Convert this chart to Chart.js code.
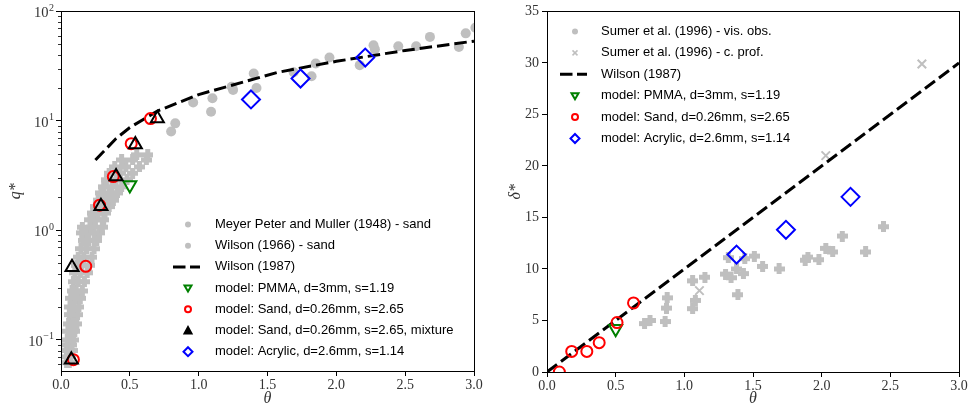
<!DOCTYPE html>
<html>
<head>
<meta charset="utf-8">
<title>Sheet flow transport and layer thickness</title>
<script src="https://cdn.jsdelivr.net/npm/chart.js"></script>
<style>
    body { margin: 0; background: #fff; }
    #wrap { position: relative; width: 970px; height: 408px; }
    canvas { position: absolute; top: 0; }
    #left { left: 0; }
    #right { left: 485px; }
</style>
</head>
<body>
<div id="wrap">
    <canvas id="left" width="485" height="408"></canvas>
    <canvas id="right" width="485" height="408"></canvas>
</div>
<script>
// ---------- left panel: q* against theta (log y) ----------
const mpmSand = [
    [0.04,0.062],[0.06,0.062],
    [0.045,0.07],[0.07,0.07],
    [0.04,0.08],[0.06,0.08],[0.08,0.08],
    [0.05,0.09],[0.075,0.09],
    [0.045,0.10],[0.07,0.10],[0.09,0.10],
    [0.05,0.12],[0.08,0.12],[0.10,0.12],
    [0.055,0.14],[0.085,0.14],[0.115,0.14],
    [0.06,0.17],[0.09,0.17],[0.12,0.17],
    [0.065,0.20],[0.095,0.20],[0.13,0.20],
    [0.07,0.24],[0.10,0.24],[0.14,0.24],
    [0.08,0.28],[0.11,0.28],[0.155,0.28],
    [0.09,0.34],[0.125,0.34],[0.17,0.34],
    [0.10,0.41],[0.14,0.41],[0.19,0.41],
    [0.115,0.48],[0.15,0.48],[0.205,0.48],
    [0.125,0.57],[0.165,0.57],[0.225,0.57],
    [0.145,0.68],[0.185,0.68],[0.24,0.68],
    [0.16,0.81],[0.20,0.81],[0.26,0.81],
    [0.15,0.95],[0.19,0.95],[0.24,0.95],[0.28,0.95],
    [0.155,1.07],[0.22,1.07],[0.30,1.07],
    [0.21,1.25],[0.25,1.25],[0.31,1.25],
    [0.23,1.44],[0.27,1.44],[0.32,1.44],
    [0.25,1.65],[0.29,1.65],[0.35,1.65],
    [0.27,1.89],[0.32,1.89],[0.38,1.89],
    [0.29,2.2],[0.35,2.2],[0.41,2.2],
    [0.31,2.5],[0.37,2.5],[0.44,2.5],
    [0.33,2.9],[0.40,2.9],[0.48,2.9],
    [0.35,3.33],[0.43,3.33],[0.52,3.33],
    [0.39,3.8],[0.47,3.8],[0.57,3.8],
    [0.44,4.4],[0.52,4.4],[0.62,4.4],
    [0.55,4.9],[0.63,4.9]
];
const wilson1966 = [
    [0.80,8.0],[0.83,9.5],[0.96,14.7],[1.10,16.1],[1.09,12.1],[1.25,19.2],[1.24,20.5],
    [1.40,27.1],[1.42,20.0],[1.69,27.8],[1.82,25.6],[1.85,33.4],[1.95,37.9],[2.17,32.3],
    [2.27,49],[2.28,45],[2.45,48],[2.58,48],[2.68,58.5],[2.89,47.4],[2.94,63],[3.01,71]
];
const wilson1987q = [
    [0.25,4.4],[0.4,6.9],[0.5,8.7],[0.7,12.3],[1.0,17.4],[1.37,23.5],[1.57,27.7],
    [2.0,35],[2.5,44],[3.0,53.5]
];
const pmmaQ = [[0.50,2.6]];
const sandQ = [[0.65,10.5],[0.51,6.2],[0.38,3.1],[0.28,1.7],[0.18,0.47],[0.09,0.066]];
const mixQ = [[0.70,10.5],[0.54,6.1],[0.40,3.1],[0.29,1.66],[0.08,0.46],[0.075,0.066]];
const acrylicQ = [[1.38,15.7],[1.74,24.4],[2.21,37.9]];

const qTicks = [0.1, 1, 10, 100];
const qTickExp = ['−1', '0', '1', '2'];
const qMinor = [0.06,0.07,0.08,0.09,0.2,0.3,0.4,0.5,0.6,0.7,0.8,0.9,2,3,4,5,6,7,8,9,20,30,40,50,60,70,80,90];

const leftLabels = [
    'Meyer Peter and Muller (1948) - sand',
    'Wilson (1966) - sand',
    'Wilson (1987)',
    'model: PMMA, d=3mm, s=1.19',
    'model: Sand, d=0.26mm, s=2.65',
    'model: Sand, d=0.26mm, s=2.65, mixture',
    'model: Acrylic, d=2.6mm, s=1.14'
];

// ---------- right panel: delta* against theta ----------
const sumerVis = [
    [0.71,4.7],[0.75,5.0],[0.86,4.9],[0.87,6.2],[0.875,7.2],[1.06,8.85],[1.06,6.15],[1.08,6.95],
    [1.15,9.2],[1.30,9.5],[1.34,9.15],[1.32,11.1],[1.38,10.0],[1.43,9.55],[1.39,7.5],[1.44,11.0],
    [1.51,11.25],[1.57,10.25],[1.69,10.0],[1.88,10.85],[1.90,11.15],[1.98,10.9],[2.03,12.0],
    [2.08,11.65],[2.15,13.2],[2.32,11.65],[2.45,14.1]
];
const sumerProf = [[1.11,7.9],[2.03,21.0],[2.73,29.9]];
const wilson1987d = [[0,0],[3,30]];
const pmmaD = [[0.50,4.2]];
const sandD = [[0.09,0],[0.18,2.0],[0.29,2.0],[0.38,2.85],[0.51,4.8],[0.63,6.7]];
const acrylicD = [[1.38,11.4],[1.74,13.8],[2.21,17.0]];

const rightLabels = [
    'Sumer et al. (1996) - vis. obs.',
    'Sumer et al. (1996) - c. prof.',
    'Wilson (1987)',
    'model: PMMA, d=3mm, s=1.19',
    'model: Sand, d=0.26mm, s=2.65',
    'model: Acrylic, d=2.6mm, s=1.14'
];

const GREY = '#bfbfbf';
const SERIF = '"Liberation Serif", "Times New Roman", serif';
const pts = arr => arr.map(p => ({x: p[0], y: p[1]}));

function plusMarker(size, arm, color) {
    const c = document.createElement('canvas');
    c.width = size; c.height = size;
    const g = c.getContext('2d');
    g.fillStyle = color;
    const o = (size - arm) / 2;
    g.fillRect(o, 0, arm, size);
    g.fillRect(0, o, size, arm);
    return c;
}
const plusImg = plusMarker(11, 5, GREY);

function marks(label, data, style, color, extra) {
    return Object.assign({
        label: label, data: pts(data), showLine: false,
        pointStyle: style, pointRadius: 6, pointBorderWidth: 2,
        pointBorderColor: color, pointBackgroundColor: 'rgba(0,0,0,0)'
    }, extra || {});
}
function dashed(label, data) {
    return {
        label: label, data: pts(data), showLine: true, pointRadius: 0,
        borderColor: '#000', borderWidth: 3, borderDash: [12.5, 5], fill: false
    };
}

function drawMark(ctx, kind, x, y) {
    ctx.save();
    ctx.setLineDash([]);
    ctx.lineWidth = 2;
    ctx.beginPath();
    if (kind === 'dot') {
        ctx.fillStyle = GREY;
        ctx.arc(x, y, 3, 0, 2 * Math.PI); ctx.fill();
    } else if (kind === 'x') {
        ctx.strokeStyle = GREY; ctx.lineWidth = 1.5;
        ctx.moveTo(x - 2.5, y - 2.5); ctx.lineTo(x + 2.5, y + 2.5);
        ctx.moveTo(x + 2.5, y - 2.5); ctx.lineTo(x - 2.5, y + 2.5); ctx.stroke();
    } else if (kind === 'dash') {
        ctx.strokeStyle = '#000'; ctx.lineWidth = 3; ctx.setLineDash([12.5, 4.5]);
        ctx.moveTo(x - 15, y); ctx.lineTo(x + 12, y); ctx.stroke();
    } else if (kind === 'pmma') {
        ctx.strokeStyle = '#008000';
        ctx.moveTo(x - 3.5, y - 2.5); ctx.lineTo(x + 3.5, y - 2.5); ctx.lineTo(x, y + 3.5); ctx.closePath(); ctx.stroke();
    } else if (kind === 'sand') {
        ctx.strokeStyle = '#ff0000';
        ctx.arc(x, y, 3, 0, 2 * Math.PI); ctx.stroke();
    } else if (kind === 'mix') {
        ctx.strokeStyle = '#000'; ctx.fillStyle = '#000';
        ctx.moveTo(x - 3.5, y + 3); ctx.lineTo(x + 3.5, y + 3); ctx.lineTo(x, y - 3.5); ctx.closePath(); ctx.fill(); ctx.stroke();
    } else if (kind === 'acrylic') {
        ctx.strokeStyle = '#0000ff';
        ctx.moveTo(x, y - 4.5); ctx.lineTo(x + 4.5, y); ctx.lineTo(x, y + 4.5); ctx.lineTo(x - 4.5, y); ctx.closePath(); ctx.stroke();
    }
    ctx.restore();
}

const framePlugin = {
    id: 'frameLegend',
    afterDraw(chart, args, opts) {
        const ctx = chart.ctx, a = chart.chartArea;
        ctx.save();
        if (opts.minor) {
            const sc = chart.scales.y;
            ctx.strokeStyle = '#000'; ctx.lineWidth = 0.8;
            opts.minor.forEach(v => {
                const py = Math.round(sc.getPixelForValue(v)) + 0.5;
                if (py < a.top || py > a.bottom) return;
                ctx.beginPath(); ctx.moveTo(a.left, py); ctx.lineTo(a.left - 3, py); ctx.stroke();
            });
            // power-of-ten labels: base "10" with a raised exponent
            ctx.fillStyle = '#333';
            ctx.textAlign = 'right';
            ctx.textBaseline = 'middle';
            qTicks.forEach((v, i) => {
                const py = sc.getPixelForValue(v);
                const right = a.left - 7;
                ctx.font = '10px ' + SERIF;
                const ew = ctx.measureText(qTickExp[i]).width;
                ctx.fillText(qTickExp[i], right, py - 3.5);
                ctx.font = '14.5px ' + SERIF;
                ctx.fillText('10', right - ew - 0.5, py + 2);
            });
        }
        ctx.strokeStyle = '#000'; ctx.lineWidth = 1;
        ctx.strokeRect(Math.round(a.left) + 0.5, Math.round(a.top) + 0.5,
                       Math.round(a.right - a.left), Math.round(a.bottom - a.top));
        const lg = opts.legend;
        ctx.font = '13px "Liberation Sans", Arial, sans-serif';
        ctx.fillStyle = '#000';
        ctx.textBaseline = 'middle';
        ctx.textAlign = 'left';
        lg.kinds.forEach((k, i) => {
            const y = lg.y + i * lg.dy;
            drawMark(ctx, k, lg.x, y);
            ctx.fillText(chart.data.datasets[lg.order[i]].label, lg.textX, y);
        });
        ctx.restore();
    }
};

const tickFont = {family: SERIF, size: 14};
const titleFont = {family: SERIF, size: 16, style: 'italic'};
const tickGrid = {drawOnChartArea: false, drawTicks: true, tickLength: 5, color: '#000', lineWidth: 1};

const xAxis = (h) => ({
    type: 'linear', min: 0, max: 3,
    ticks: {stepSize: 0.5, callback: v => v.toFixed(1), font: tickFont, color: '#333', padding: 1, maxRotation: 0, autoSkip: false},
    grid: tickGrid,
    border: {display: false},
    title: {display: true, text: 'θ', font: titleFont, color: '#333', padding: {top: 0, bottom: 0}},
    afterFit: s => { s.height = h; }
});

new Chart(document.getElementById('left'), {
    type: 'scatter',
    data: {
        datasets: [
            marks(leftLabels[0], mpmSand, plusImg, GREY, {order: 7, pointBorderWidth: 0}),
            marks(leftLabels[1], wilson1966, 'circle', GREY, {order: 6, pointRadius: 5, pointBorderWidth: 0, pointBackgroundColor: GREY}),
            Object.assign(dashed(leftLabels[2], wilson1987q), {order: 5}),
            marks(leftLabels[3], pmmaQ, 'triangle', '#008000', {order: 4, pointRadius: 7.5, pointRotation: 180}),
            marks(leftLabels[4], sandQ, 'circle', '#ff0000', {order: 3, pointRadius: 5.5}),
            marks(leftLabels[5], mixQ, 'triangle', '#000', {order: 2, pointRadius: 7.5}),
            marks(leftLabels[6], acrylicQ, 'rectRot', '#0000ff', {order: 1, pointRadius: 9})
        ]
    },
    options: {
        responsive: false, animation: false, devicePixelRatio: 1,
        layout: {padding: {top: 11, right: 11, left: 0, bottom: 0}},
        scales: {
            x: xAxis(37),
            y: {
                type: 'logarithmic', min: 0.052, max: 100,
                afterBuildTicks: s => { s.ticks = qTicks.map(v => ({value: v})); },
                ticks: {callback: () => '', font: tickFont, padding: 3, autoSkip: false},
                grid: tickGrid,
                border: {display: false},
                title: {display: true, text: 'q*', font: titleFont, color: '#333', padding: {top: 6, bottom: 0}},
                afterFit: s => { s.width = 61; }
            }
        },
        plugins: {
            legend: {display: false}, tooltip: {enabled: false},
            frameLegend: {
                minor: qMinor,
                legend: {x: 188, textX: 215, y: 224.5, dy: 21.2,
                         kinds: ['dot', 'dot', 'dash', 'pmma', 'sand', 'mix', 'acrylic'],
                         order: [0, 1, 2, 3, 4, 5, 6]}
            }
        }
    },
    plugins: [framePlugin]
});

new Chart(document.getElementById('right'), {
    type: 'scatter',
    data: {
        datasets: [
            marks(rightLabels[0], sumerVis, plusImg, GREY, {order: 6, pointBorderWidth: 0}),
            marks(rightLabels[1], sumerProf, 'crossRot', GREY, {order: 5, pointRadius: 6, pointBorderWidth: 2}),
            Object.assign(dashed(rightLabels[2], wilson1987d), {order: 4}),
            marks(rightLabels[3], pmmaD, 'triangle', '#008000', {order: 3, pointRadius: 7.5, pointRotation: 180}),
            marks(rightLabels[4], sandD, 'circle', '#ff0000', {order: 2, pointRadius: 5.5}),
            marks(rightLabels[5], acrylicD, 'rectRot', '#0000ff', {order: 1, pointRadius: 9})
        ]
    },
    options: {
        responsive: false, animation: false, devicePixelRatio: 1,
        layout: {padding: {top: 11, right: 10, left: 0, bottom: 0}},
        scales: {
            x: xAxis(36),
            y: {
                type: 'linear', min: 0, max: 35,
                ticks: {stepSize: 5, font: tickFont, color: '#333', padding: 3, autoSkip: false},
                grid: tickGrid,
                border: {display: false},
                title: {display: true, text: 'δ*', font: titleFont, color: '#333', padding: {top: 21, bottom: 0}},
                afterFit: s => { s.width = 62; }
            }
        },
        plugins: {
            legend: {display: false}, tooltip: {enabled: false},
            frameLegend: {
                legend: {x: 90, textX: 116, y: 31.5, dy: 21.4,
                         kinds: ['dot', 'x', 'dash', 'pmma', 'sand', 'acrylic'],
                         order: [0, 1, 2, 3, 4, 5]}
            }
        }
    },
    plugins: [framePlugin]
});
</script>
</body>
</html>
